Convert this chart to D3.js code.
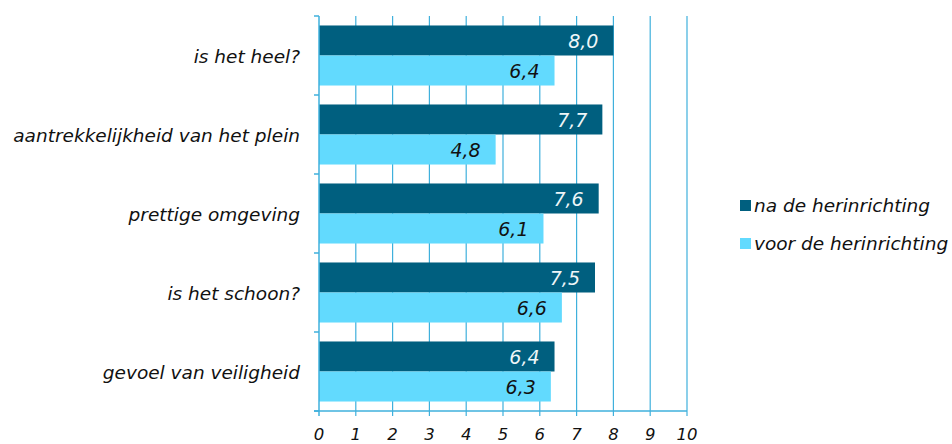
<!DOCTYPE html>
<html><head><meta charset="utf-8">
<script src="https://cdn.jsdelivr.net/npm/d3@7"></script>
<style>body{margin:0;background:#fff}svg{display:block}text{font-family:"DejaVu Sans",Verdana,sans-serif;font-style:italic}</style>
</head><body>
<svg id="c" width="952" height="444"></svg>
<script>
const categories = ["is het heel?","aantrekkelijkheid van het plein","prettige omgeving","is het schoon?","gevoel van veiligheid"];
const seriesNames = ["na de herinrichting","voor de herinrichting"];
const naValues = [8.0,7.7,7.6,7.5,6.4];
const voorValues = [6.4,4.8,6.1,6.6,6.3];
const xTicks = [0,1,2,3,4,5,6,7,8,9,10];
const colors = ["#005f7f","#62dafe"];
const labelColors = ["#eef6f8","#111"];

const svg = d3.select("#c");
const m = {l:319, r:952-687, t:16, b:444-411};
const W = 952-m.l-m.r, H = 444-m.t-m.b;
const g = svg.append("g").attr("transform",`translate(${m.l},${m.t})`);
const x = d3.scaleLinear().domain([0,10]).range([0,W]);
const y = d3.scaleBand().domain(categories).range([0,H]).paddingInner(0.24).paddingOuter(0.12);
const ys = d3.scaleBand().domain([0,1]).range([0,y.bandwidth()]);
const gridC = "#3fb0dc";

// grid
g.selectAll("line.grid").data(xTicks.slice(1)).join("line")
  .attr("x1",d=>x(d)).attr("x2",d=>x(d)).attr("y1",0).attr("y2",H+5)
  .attr("stroke",gridC).attr("stroke-width",1.2);

const data = categories.map((c,i)=>({c, vals:[naValues[i],voorValues[i]]}));
const grp = g.selectAll("g.cat").data(data).join("g").attr("transform",d=>`translate(0,${y(d.c)})`);
grp.selectAll("rect").data(d=>d.vals).join("rect")
  .attr("x",0).attr("y",(d,i)=>ys(i)).attr("width",d=>x(d)).attr("height",ys.bandwidth())
  .attr("fill",(d,i)=>colors[i]);
grp.selectAll("text.v").data(d=>d.vals).join("text").attr("class","v")
  .attr("x",d=>x(d)-15).attr("y",(d,i)=>ys(i)+ys.bandwidth()/2+7.5)
  .attr("text-anchor","end").attr("font-size",19).attr("fill",(d,i)=>labelColors[i])
  .text(d=>d.toFixed(1).replace(".",","));

// left axis
const step = H/categories.length;
g.append("line").attr("x1",0).attr("x2",0).attr("y1",0).attr("y2",H).attr("stroke",gridC).attr("stroke-width",1.5);
g.selectAll("line.lt").data(d3.range(categories.length+1)).join("line")
  .attr("x1",-5).attr("x2",0).attr("y1",d=>d*step).attr("y2",d=>d*step).attr("stroke",gridC).attr("stroke-width",1.5);
// bottom axis
g.append("line").attr("x1",-5).attr("x2",W).attr("y1",H).attr("y2",H).attr("stroke",gridC).attr("stroke-width",1.5);
g.append("line").attr("x1",0).attr("x2",0).attr("y1",H).attr("y2",H+5).attr("stroke",gridC).attr("stroke-width",1.5);
g.selectAll("text.xt").data(xTicks).join("text").attr("class","xt")
  .attr("x",d=>x(d)).attr("y",H+29).attr("text-anchor","middle").attr("font-size",16.5).attr("fill","#111").text(d=>d);
// category labels
g.selectAll("text.cl").data(categories).join("text").attr("class","cl")
  .attr("x",-19).attr("y",d=>y(d)+y.bandwidth()/2+7).attr("text-anchor","end").attr("font-size",18.5).attr("fill","#111").text(d=>d);

// legend
const lg = svg.append("g").attr("transform","translate(740,200)");
const li = lg.selectAll("g").data(seriesNames).join("g").attr("transform",(d,i)=>`translate(0,${i*38})`);
li.append("rect").attr("width",11).attr("height",11).attr("fill",(d,i)=>colors[i]);
li.append("text").attr("x",14).attr("y",12).attr("font-size",18.5).attr("fill","#111").text(d=>d);
</script>
</body></html>
